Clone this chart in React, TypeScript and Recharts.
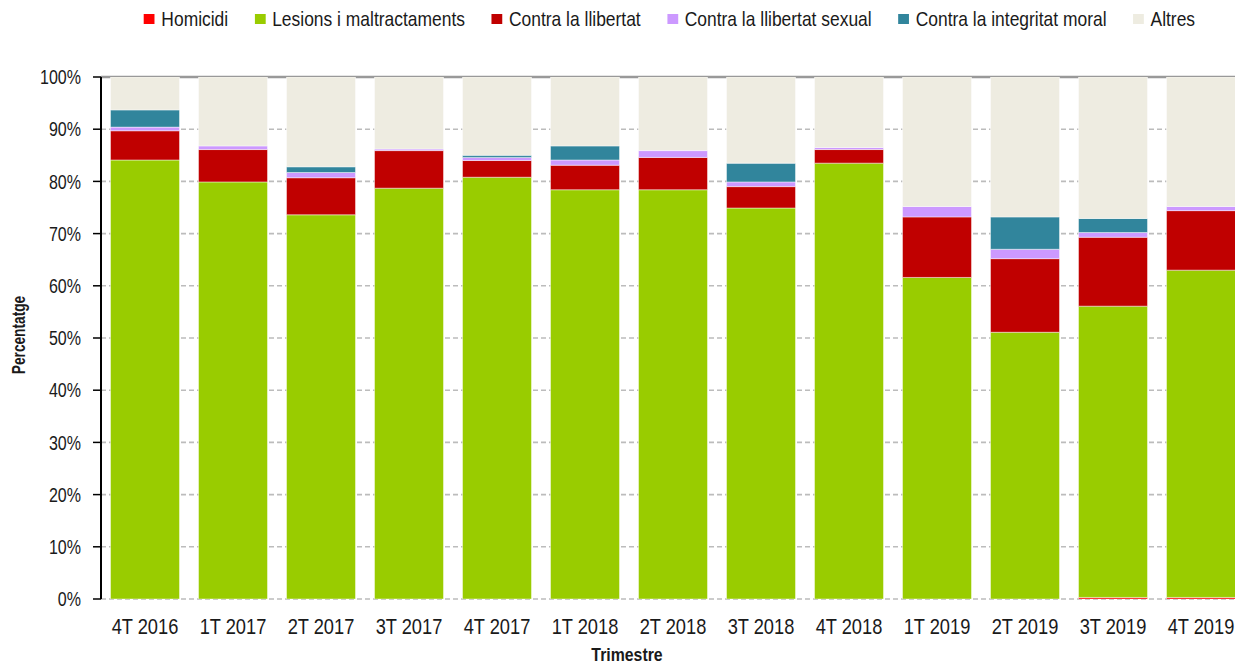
import React from 'react';
import { BarChart, Bar, XAxis, YAxis, CartesianGrid } from 'recharts';

const categories = ['4T 2016', '1T 2017', '2T 2017', '3T 2017', '4T 2017', '1T 2018', '2T 2018', '3T 2018', '4T 2018', '1T 2019', '2T 2019', '3T 2019', '4T 2019'];
const homicidi = [0, 0, 0, 0, 0, 0, 0, 0, 0, 0, 0, 0.3, 0.3];
const lesions = [84.1, 79.9, 73.6, 78.7, 80.8, 78.4, 78.4, 74.9, 83.5, 61.6, 51.1, 55.8, 62.7];
const llibertat = [5.6, 6.2, 7.1, 7.2, 3.2, 4.7, 6.2, 4.1, 2.6, 11.6, 14.1, 13.2, 11.4];
const sexual = [0.7, 0.7, 1.0, 0.3, 0.6, 1.0, 1.3, 0.9, 0.4, 2.0, 1.8, 0.9, 0.8];
const moral = [3.3, 0, 1.1, 0, 0.4, 2.7, 0, 3.6, 0, 0, 6.2, 2.7, 0];
const altres = [6.3, 13.2, 17.2, 13.8, 15.0, 13.2, 14.1, 16.5, 13.5, 24.8, 26.8, 27.1, 24.8];
const yTicks = [0, 10, 20, 30, 40, 50, 60, 70, 80, 90, 100];
const boundaryTicks = [0, 1, 2, 3, 4, 5, 6, 7, 8, 9, 10, 11, 12, 13];

const series = [
  { key: 'homicidi', name: 'Homicidi', color: '#FF0000', values: homicidi },
  { key: 'lesions', name: 'Lesions i maltractaments', color: '#99CC00', values: lesions },
  { key: 'llibertat', name: 'Contra la llibertat', color: '#C00000', values: llibertat },
  { key: 'sexual', name: 'Contra la llibertat sexual', color: '#CC99FF', values: sexual },
  { key: 'moral', name: 'Contra la integritat moral', color: '#31859C', values: moral },
  { key: 'altres', name: 'Altres', color: '#EEECE1', values: altres },
];

const data = categories.map((name, i) => {
  const row: any = { name };
  series.forEach((s) => { row[s.key] = s.values[i]; });
  return row;
});

const FONT = '"Liberation Sans", Arial, sans-serif';
const TEXT = '#1a1a1a';

const GridLine = (props: any) => {
  const { x1, x2, y1, y2 } = props;
  const isTop = y1 < 78;
  return (
    <line
      x1={x1} x2={x2} y1={y1} y2={y2}
      stroke={isTop ? '#999999' : '#bcbcbc'}
      strokeWidth={isTop ? 2.5 : 1.6}
      strokeDasharray={isTop ? undefined : '5 3'}
    />
  );
};

const XTick = (props: any) => {
  const { x, y, payload } = props;
  return (
    <g transform={`translate(${x},${y}) scale(0.83,1)`}>
      <text x={0} y={0} dy="0.71em" textAnchor="middle" fill={TEXT} fontSize={22} fontFamily={FONT}>
        {payload.value}
      </text>
    </g>
  );
};

const YTick = (props: any) => {
  const { x, y, payload } = props;
  return (
    <g transform={`translate(${x},${y}) scale(0.8,1)`}>
      <text x={0} y={0} dy="0.355em" textAnchor="end" fill={TEXT} fontSize={20} fontFamily={FONT}>
        {`${payload.value}%`}
      </text>
    </g>
  );
};

export default function App() {
  return (
    <div style={{ position: 'absolute', left: 0, top: 0, width: 1235, height: 663, overflow: 'hidden', background: '#fff', fontFamily: FONT }}>
      <div
        style={{
          position: 'absolute', top: 7, left: 0, width: 1339, display: 'flex', justifyContent: 'center',
          gap: 32, fontSize: 21, lineHeight: '24px', color: TEXT, whiteSpace: 'nowrap',
          transform: 'scaleX(0.83)', transformOrigin: '50% 50%',
        }}
      >
        {series.map((s) => (
          <div key={s.key} style={{ display: 'flex', alignItems: 'center' }}>
            <span style={{ display: 'inline-block', width: 13, height: 10, background: s.color, marginRight: 8 }} />
            <span>{s.name}</span>
          </div>
        ))}
      </div>
      <BarChart
        width={1260}
        height={663}
        data={data}
        margin={{ top: 77, right: 15, bottom: 0, left: 0 }}
        barCategoryGap={9.5}
        style={{ position: 'absolute', left: 0, top: 0 }}
      >
        <CartesianGrid vertical={false} horizontal={GridLine as any} xAxisId="b" />
        <XAxis
          xAxisId="b"
          type="number"
          domain={[0, 13]}
          ticks={boundaryTicks}
          allowDataOverflow
          tick={false}
          tickSize={7}
          tickLine={{ stroke: '#000', strokeWidth: 1.5 }}
          axisLine={{ stroke: '#000', strokeWidth: 2 }}
          height={0}
        />
        <XAxis
          xAxisId="a"
          dataKey="name"
          interval={0}
          height={64}
          tickLine={false}
          axisLine={false}
          tickSize={0}
          tickMargin={19}
          tick={<XTick />}
        />
        <YAxis
          domain={[0, 100]}
          ticks={yTicks}
          width={101}
          tickSize={8}
          tickMargin={12}
          tickLine={{ stroke: '#000', strokeWidth: 1.5 }}
          axisLine={{ stroke: '#000', strokeWidth: 2 }}
          tick={<YTick />}
          allowDataOverflow
        />
        {series.map((s) => (
          <Bar
            key={s.key}
            xAxisId="a"
            dataKey={s.key}
            name={s.name}
            stackId="a"
            fill={s.color}
            stroke="rgba(255,255,255,0.45)"
            strokeWidth={1}
            isAnimationActive={false}
          />
        ))}
      </BarChart>
      <div style={{ position: 'absolute', left: 627, top: 655, transform: 'translate(-50%, -50%) scaleX(0.88)', fontWeight: 'bold', fontSize: 18, color: TEXT, whiteSpace: 'nowrap' }}>
        Trimestre
      </div>
      <div style={{ position: 'absolute', left: 19, top: 335, transform: 'translate(-50%, -50%) rotate(-90deg) scaleX(0.72)', fontWeight: 'bold', fontSize: 19, color: TEXT, whiteSpace: 'nowrap' }}>
        Percentatge
      </div>
    </div>
  );
}
